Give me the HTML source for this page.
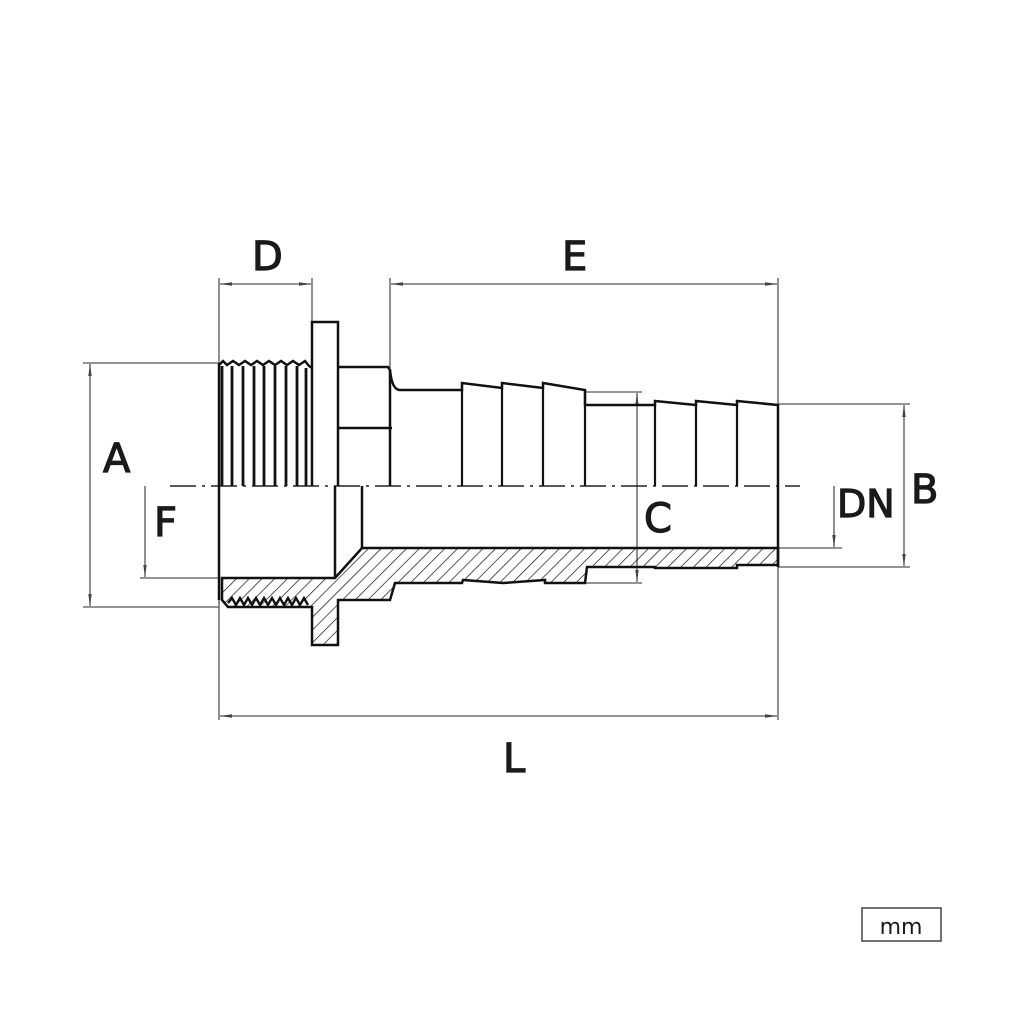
<!DOCTYPE html>
<html><head><style>html,body{margin:0;padding:0;background:#fff}svg{display:block}
text{font-family:"DejaVu Sans","Liberation Sans",sans-serif;fill:#1a1a1a}</style></head>
<body>
<svg width="1024" height="1024" viewBox="0 0 1024 1024" xmlns="http://www.w3.org/2000/svg">
<defs>
<pattern id="h" width="9" height="9" patternUnits="userSpaceOnUse" patternTransform="rotate(45)">
<line x1="0" y1="0" x2="0" y2="9" stroke="#111" stroke-width="1.4"/>
</pattern>
<marker id="a" markerWidth="12" markerHeight="6" refX="12" refY="3" orient="auto-start-reverse" markerUnits="userSpaceOnUse">
<path d="M12,3 L0,1.3 L0,4.7 Z" fill="#444"/>
</marker>
</defs>
<g stroke="#555" stroke-width="1.3" fill="none">
<line x1="219" y1="278" x2="219" y2="720"/>
<line x1="312" y1="278" x2="312" y2="322"/>
<line x1="390" y1="278" x2="390" y2="368"/>
<line x1="778" y1="278" x2="778" y2="720"/>
<line x1="83" y1="363" x2="219" y2="363"/>
<line x1="83" y1="607" x2="219" y2="607"/>
<line x1="140" y1="578" x2="219" y2="578"/>
<line x1="585" y1="392" x2="642" y2="392"/>
<line x1="585" y1="583" x2="642" y2="583"/>
<line x1="778" y1="404" x2="910" y2="404"/>
<line x1="778" y1="567" x2="910" y2="567"/>
<line x1="778" y1="548" x2="842" y2="548"/>
<line x1="220" y1="284" x2="311" y2="284" marker-start="url(#a)" marker-end="url(#a)"/>
<line x1="391" y1="284" x2="777" y2="284" marker-start="url(#a)" marker-end="url(#a)"/>
<line x1="220" y1="716" x2="777" y2="716" marker-start="url(#a)" marker-end="url(#a)"/>
<line x1="90" y1="364" x2="90" y2="606" marker-start="url(#a)" marker-end="url(#a)"/>
<line x1="145" y1="486" x2="145" y2="577" marker-end="url(#a)"/>
<line x1="637" y1="393" x2="637" y2="582" marker-start="url(#a)" marker-end="url(#a)"/>
<line x1="904" y1="405" x2="904" y2="566" marker-start="url(#a)" marker-end="url(#a)"/>
<line x1="834" y1="486" x2="834" y2="547" marker-end="url(#a)"/>
</g>
<line x1="170" y1="486" x2="800" y2="486" stroke="#222" stroke-width="1.5" stroke-dasharray="26,6,3,6"/>
<path d="M222,578 L335,578 L362,548 L778,548 L778,565 L737,565 L737,568 L655,568 L655,567 L587,567 L585,583 L545,583 L545,580 L503,583 L463,580 L462,583 L395,583 L390,600 L338,600 L338,645 L312,645 L312,607 L228,607 L222,600 Z" fill="url(#h)" stroke="#111" stroke-width="2.5"/>
<path d="M228,603 l4,-5 4,7 4,-7 4,7 4,-7 4,7 4,-7 4,7 4,-7 4,7 4,-7 4,7 4,-7 4,7 4,-7 4,7 4,-7 4,7 4,-7 4,7" fill="none" stroke="#111" stroke-width="2.4"/>
<g stroke="#111" stroke-width="2.5" fill="none">
<line x1="219" y1="363" x2="219" y2="600"/>
<line x1="335" y1="486" x2="335" y2="578"/>
<line x1="362" y1="486" x2="362" y2="548"/>
<path d="M219,365 l4,-4 4,4 6,-4 6,4 6,-4 6,4 6,-4 6,4 6,-4 6,4 6,-4 6,4 6,-4 6,4 6,-4 4,5 L312,368"/>
<path d="M312,486 L312,322 L338,322 L338,486"/>
<path d="M338,367 L388,367 L390,370 L390,486"/>
<line x1="338" y1="428" x2="392" y2="428"/>
<path d="M390,370 Q392,390 400,390 L462,390 L462,383 L502,388 L502,383 L543,388 L543,383 L585,390 L585,405 L655,405 L655,401 L696,405 L696,401 L737,405 L737,401 L778,405 L778,567"/>
<g stroke-width="2.2">
<line x1="462" y1="390" x2="462" y2="486"/>
<line x1="502" y1="388" x2="502" y2="486"/>
<line x1="543" y1="388" x2="543" y2="486"/>
<line x1="585" y1="390" x2="585" y2="486"/>
<line x1="655" y1="405" x2="655" y2="486"/>
<line x1="696" y1="405" x2="696" y2="486"/>
<line x1="737" y1="405" x2="737" y2="486"/>
</g>
</g>
<g stroke="#111" stroke-width="2.8">
<line x1="222" y1="366" x2="222" y2="486"/>
<line x1="232" y1="366" x2="232" y2="486"/>
<line x1="243" y1="366" x2="243" y2="486"/>
<line x1="254" y1="366" x2="254" y2="486"/>
<line x1="264" y1="366" x2="264" y2="486"/>
<line x1="275" y1="366" x2="275" y2="486"/>
<line x1="286" y1="366" x2="286" y2="486"/>
<line x1="297" y1="366" x2="297" y2="486"/>
<line x1="306" y1="368" x2="306" y2="486"/>
</g>
<g font-size="40" font-weight="normal" stroke="#1a1a1a" stroke-width="1.2">
<text x="252" y="270">D</text>
<text x="562" y="270">E</text>
<text x="503" y="772">L</text>
<text x="103" y="472">A</text>
<text x="154" y="536">F</text>
<text x="644" y="532">C</text>
<text x="837" y="517" font-size="38">DN</text>
<text x="911" y="503">B</text>
</g>
<rect x="862" y="908" width="79" height="33" fill="none" stroke="#444" stroke-width="1.5"/>
<text x="901" y="934" font-size="22" text-anchor="middle" font-family="Liberation Sans,sans-serif">mm</text>
</svg>
</body></html>
